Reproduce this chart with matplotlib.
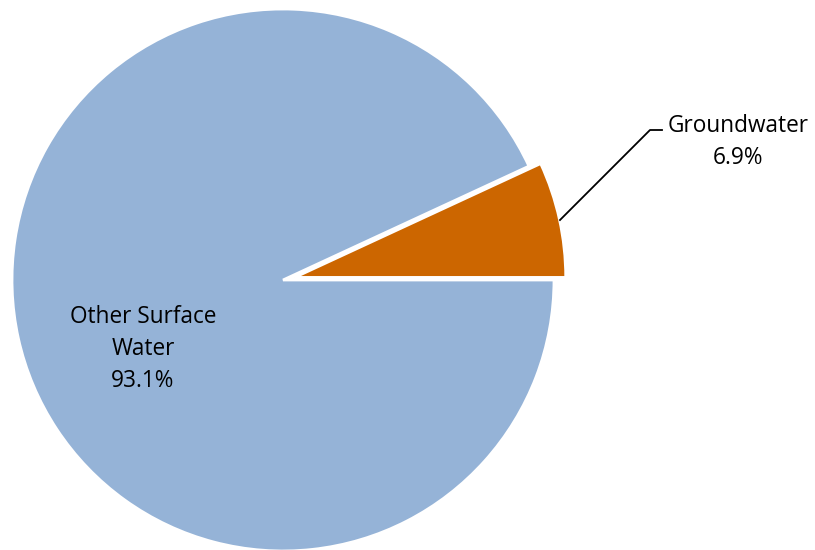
import matplotlib.pyplot as plt

labels = ['Groundwater', 'Other Surface\nWater']
shares = [6.9, 93.1]
colors = ['#CC6600', '#95B3D7']

W, H = 815, 550

fig = plt.figure(figsize=(W / 100, H / 100), dpi=100)
ax = fig.add_axes([0, 0, 1, 1])

# pie drawn in pixel units, y measured from the bottom
cx, cy, r = 283, H - 280, 271
ax.pie(shares, colors=colors, startangle=0, counterclock=True,
       center=(cx, cy), radius=r, explode=[12, 0],
       wedgeprops=dict(edgecolor='white', linewidth=2), frame=True)
ax.set_xlim(0, W)
ax.set_ylim(0, H)
ax.set_aspect('equal')
ax.axis('off')

font = dict(family='Open Sans', fontsize=16.3, linespacing=1.42, color='black')

ax.text(143, H - 349, f'{labels[1]}\n{shares[1]}%', ha='center', va='center', **font)

# leader line out to the small slice's label
ax.plot([560, 650, 662], [H - 220, H - 130, H - 130], color='black', lw=1.3)
ax.text(738, H - 142, f'{labels[0]}\n{shares[0]}%', ha='center', va='center', **font)

fig.savefig('out.png', dpi=100, facecolor='white')
